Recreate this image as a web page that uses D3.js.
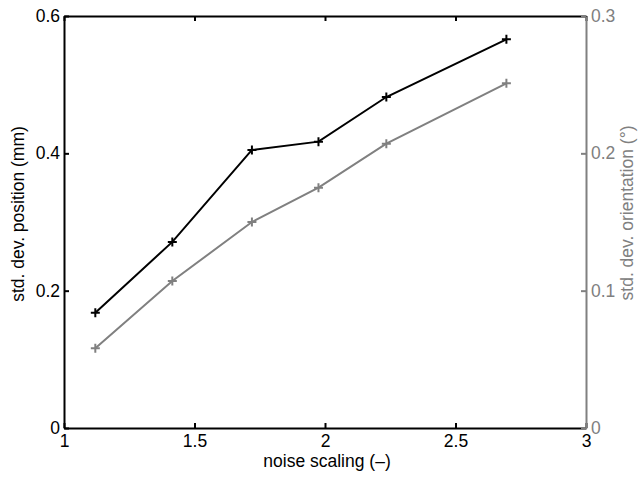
<!DOCTYPE html>
<html>
<head>
<meta charset="utf-8">
<script src="https://cdn.jsdelivr.net/npm/d3@7"></script>
<style>
  body { margin: 0; background: #fff; }
  svg text { font-family: "Liberation Sans", Arial, sans-serif; }
</style>
</head>
<body>
<svg width="641" height="477"></svg>
<script>
// data
var noiseScaling = [1.12, 1.415, 1.72, 1.975, 2.235, 2.695];
var stdPosition = [0.168, 0.271, 0.405, 0.417, 0.482, 0.566];
var stdOrientation = [0.058, 0.107, 0.150, 0.175, 0.207, 0.251];

var xTicks = [1, 1.5, 2, 2.5, 3];
var yLeftTicks = [0, 0.2, 0.4, 0.6];
var yRightTicks = [0, 0.1, 0.2, 0.3];

var svg = d3.select("svg");
var plotL = 64, plotR = 586, plotT = 16, plotB = 428;
var grey = "#808080";
var fs = 17.5;

var x = d3.scaleLinear().domain([1, 3]).range([plotL, plotR]);
var yL = d3.scaleLinear().domain([0, 0.6]).range([plotB, plotT]);
var yR = d3.scaleLinear().domain([0, 0.3]).range([plotB, plotT]);

var fmtY = function(d) { return d === 0 ? "0" : d3.format(".1f")(d); };

// bottom axis (ticks pointing inward)
var gx = svg.append("g").attr("transform", "translate(0," + plotB + ")")
    .call(d3.axisBottom(x).tickValues(xTicks).tickSizeInner(-5).tickSizeOuter(0)
        .tickFormat(d3.format("")));
gx.selectAll("text").attr("font-size", fs).attr("fill", "#000").attr("y", 7);

// top border with ticks
var gt = svg.append("g").attr("transform", "translate(0," + plotT + ")")
    .call(d3.axisTop(x).tickValues(xTicks).tickSizeInner(-5).tickSizeOuter(0).tickFormat(""));

// left axis
var gl = svg.append("g").attr("transform", "translate(" + plotL + ",0)")
    .call(d3.axisLeft(yL).tickValues(yLeftTicks).tickSizeInner(-5).tickSizeOuter(0)
        .tickFormat(fmtY));
gl.selectAll("text").attr("font-size", fs).attr("fill", "#000").attr("x", -4);

// right axis (grey)
var gr = svg.append("g").attr("transform", "translate(" + plotR + ",0)")
    .call(d3.axisRight(yR).tickValues(yRightTicks).tickSizeInner(-5).tickSizeOuter(0)
        .tickFormat(fmtY));
gr.selectAll("text").attr("font-size", fs).attr("fill", grey).attr("x", 5);

[gx, gt, gl].forEach(function(g) {
    g.selectAll("path, line").attr("stroke", "#000").attr("stroke-width", 2);
});
gr.selectAll("path, line").attr("stroke", grey).attr("stroke-width", 2);

// series
function drawSeries(vals, yScale, colour) {
    var pts = noiseScaling.map(function(v, i) { return [x(v), yScale(vals[i])]; });
    svg.append("path")
        .attr("d", d3.line()(pts))
        .attr("fill", "none")
        .attr("stroke", colour)
        .attr("stroke-width", 2);
    svg.append("g").selectAll("path")
        .data(pts)
        .enter().append("path")
        .attr("d", function(p) {
            return "M" + (p[0] - 4.5) + "," + p[1] + "H" + (p[0] + 4.5) +
                   "M" + p[0] + "," + (p[1] - 4.5) + "V" + (p[1] + 4.5);
        })
        .attr("stroke", colour)
        .attr("stroke-width", 2);
}
drawSeries(stdOrientation, yR, grey);
drawSeries(stdPosition, yL, "#000");

// axis labels
svg.append("text")
    .attr("x", (plotL + plotR) / 2 + 2).attr("y", 467)
    .attr("text-anchor", "middle").attr("font-size", fs)
    .text("noise scaling (\u2013)");

svg.append("text")
    .attr("transform", "translate(24,214) rotate(-90)")
    .attr("text-anchor", "middle").attr("font-size", fs)
    .text("std. dev. position (mm)");

svg.append("text")
    .attr("transform", "translate(633,213) rotate(-90)")
    .attr("text-anchor", "middle").attr("font-size", fs).attr("fill", grey)
    .text("std. dev. orientation (\u00b0)");
</script>
</body>
</html>
